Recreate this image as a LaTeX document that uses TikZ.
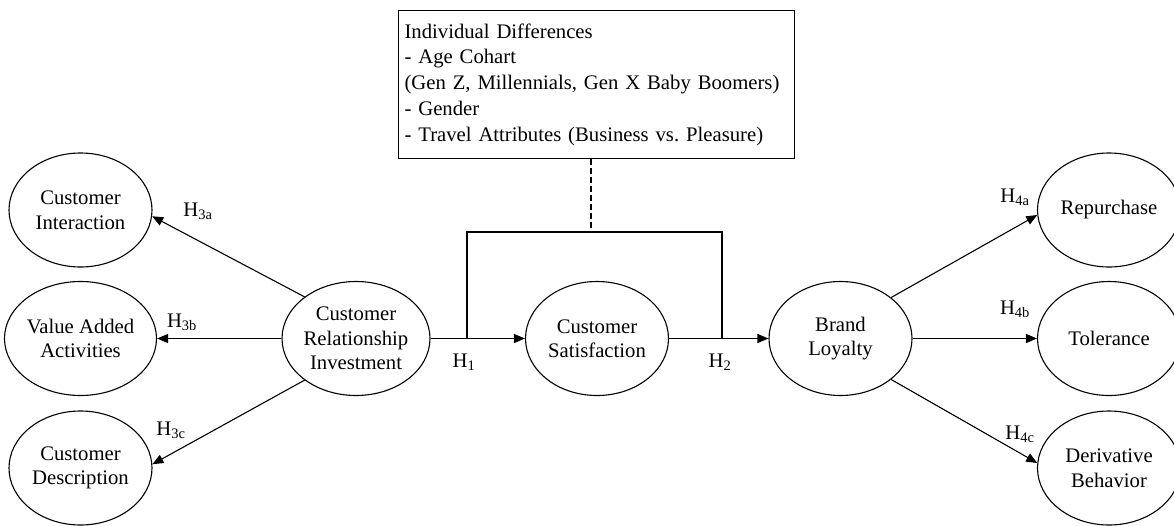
\documentclass[tikz,border=0pt]{standalone}
\usepackage{fontspec}
\setmainfont{Liberation Serif}
\usetikzlibrary{shapes.geometric,arrows.meta}
\begin{document}
\begin{tikzpicture}[x=1pt,y=-1pt,
  construct/.style={draw, ellipse, line width=1.1pt, minimum width=143pt, minimum height=114pt, inner sep=0pt, align=center, font=\fontsize{20.7}{24.5}\selectfont},
  hyp/.style={draw, line width=1.1pt, -{Triangle[length=11pt,width=9pt]}},
  lbl/.style={font=\fontsize{20.7}{24}\selectfont, inner sep=0pt},
  conn/.style={draw, line width=1.1pt}]
\useasboundingbox (0,0) rectangle (1174,525);
% left column
\node[construct] (ci) at (80.5,210) {Customer\\Interaction};
\node[construct] (va) at (80.5,338.5) {Value Added\\Activities};
\node[construct] (cd) at (80.5,468) {Customer\\Description};
% centre
\node[construct] (cri) at (356,338.5) {Customer\\Relationship\\Investment};
\node[construct] (cs) at (597,338.5) {Customer\\Satisfaction};
\node[construct] (bl) at (840.5,338.5) {Brand\\Loyalty};
% right column
\node[construct] (rp) at (1109,210) {Repurchase};
\node[construct] (tl) at (1109,338.5) {Tolerance};
\node[construct] (db) at (1109,468) {Derivative\\Behavior};
% moderator box
\node[draw, line width=1.1pt, anchor=north west, minimum width=396pt, minimum height=148pt, text width=384pt, inner xsep=6pt, align=left, font=\fontsize{20.7}{25.8}\selectfont] (box) at (398,10)
 {Individual Differences\\- Age Cohart\\(Gen Z, Millennials, Gen X Baby Boomers)\\- Gender\\- Travel Attributes (Business vs.\ Pleasure)};
% arrows
\draw[hyp] (cri.141) -- (ci.-5);
\draw[hyp] (cri.west) -- (va.east);
\draw[hyp] (cri.-141) -- (cd.3);
\draw[hyp] (cri) -- (cs);
\draw[hyp] (cs) -- (bl);
\draw[hyp] (bl.39) -- (rp.184);
\draw[hyp] (bl.east) -- (tl.west);
\draw[hyp] (bl.-39) -- (db.176);
% moderation bracket
\coordinate (bt) at (591,232);
\coordinate (bl1) at (467,338.5);
\coordinate (br1) at (722,338.5);
\draw[conn, dash pattern=on 6pt off 3pt] (box.south -| bt) -- (bt);
\draw[conn] (bl1) -- (bl1 |- bt) -- (br1 |- bt) -- (br1);
% labels
\node[lbl] (h3a) at (198,211) {H\textsubscript{3a}};
\node[lbl] (h3b) at (182,322) {H\textsubscript{3b}};
\node[lbl] (h3c) at (171,430) {H\textsubscript{3c}};
\node[lbl] (h1) at (464,362) {H\textsubscript{1}};
\node[lbl] (h2) at (720,362) {H\textsubscript{2}};
\node[lbl] (h4a) at (1015,197) {H\textsubscript{4a}};
\node[lbl] (h4b) at (1015,309) {H\textsubscript{4b}};
\node[lbl] (h4c) at (1020,434) {H\textsubscript{4c}};
\end{tikzpicture}
\end{document}
